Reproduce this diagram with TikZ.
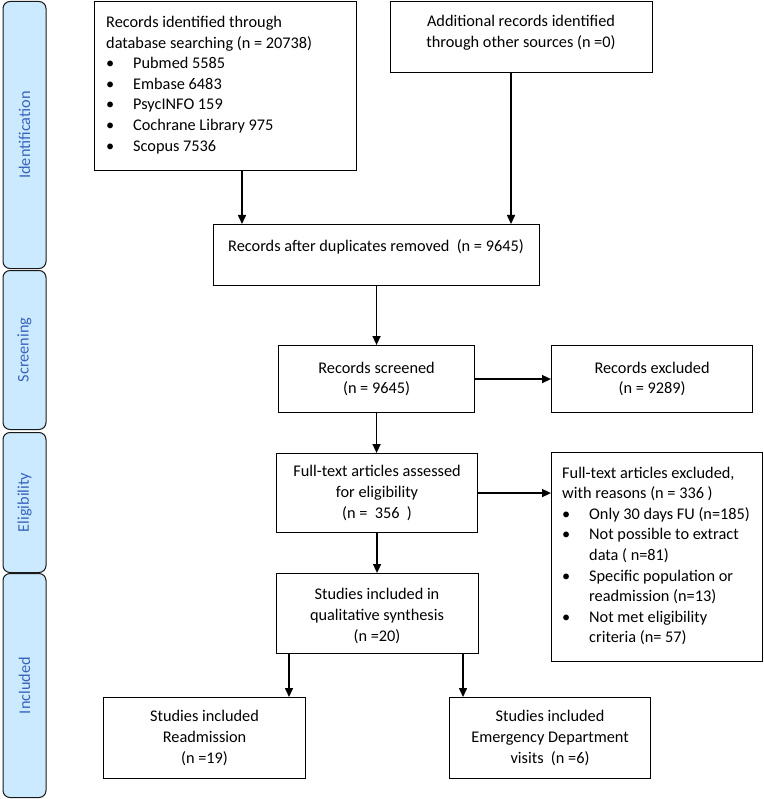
\documentclass[tikz,border=0pt]{standalone}
\usepackage{fontspec}
\setmainfont{Carlito}
\usetikzlibrary{arrows.meta}
\definecolor{barfill}{RGB}{204,234,255}
\definecolor{bartext}{RGB}{58,100,188}
\newcommand\blt{\makebox[27pt][l]{•}}
\newcommand\ind{\hspace*{27pt}}
\begin{document}
\begin{tikzpicture}[x=1pt,y=-1pt,
  font=\fontsize{16.3}{20.6}\selectfont,
  box/.style={draw=black, line width=1.1pt, rectangle, inner sep=0pt, anchor=north west, align=center},
  bar/.style={draw=black!90, line width=1pt, fill=barfill, rounded corners=7pt, anchor=north west, inner sep=0pt},
  lbl/.style={text=bartext, rotate=90, inner sep=0pt},
  txt/.style={inner sep=0pt, align=center},
  ltxt/.style={inner sep=0pt, align=left, anchor=west},
  arr/.style={-{Triangle[length=9pt,width=8pt]}, line width=1.5pt}]
\useasboundingbox (0,0) rectangle (763,799);
% side bars
\node[bar, minimum width=43, minimum height=267] (b1) at (2.5,1) {};
\node[lbl] (l1) at (b1.center) {Identification};
\node[bar, minimum width=43, minimum height=159] (b2) at (2.5,270) {};
\node[lbl] (l2) at (b2.center) {Screening};
\node[bar, minimum width=43, minimum height=140] (b3) at (2.5,432) {};
\node[lbl] (l3) at (b3.center) {Eligibility};
\node[bar, minimum width=43, minimum height=224] (b4) at (2.5,573) {};
\node[lbl] (l4) at (b4.center) {Included};
% boxes
\node[box, minimum width=262, minimum height=169] (A) at (94,1) {};
\node[ltxt] (At) at (106,85) {Records identified through\\database searching (n = 20738)\\\blt Pubmed 5585\\\blt Embase 6483\\\blt PsycINFO 159\\\blt Cochrane Library 975\\\blt Scopus 7536};
\node[box, minimum width=262, minimum height=71] (B) at (390,1) {};
\node[txt] (Bt) at (521,33) {Additional records identified\\through other sources (n =0)};
\node[box, minimum width=326, minimum height=61] (C) at (213,224) {};
\node[txt] (Ct) at (376,247) {Records after duplicates removed\ \ (n = 9645)};
\node[box, minimum width=196, minimum height=67] (D) at (278,345) {Records screened\\(n = 9645)};
\node[box, minimum width=201, minimum height=67] (E) at (551,345) {Records excluded\\(n = 9289)};
\node[box, minimum width=201, minimum height=79] (F) at (276,453) {Full-text articles assessed\\for eligibility\\(n =\ \ 356\ \ )};
\node[box, minimum width=211, minimum height=209] (G) at (551,452) {};
\node[ltxt] (Gt) at (562,556) {Full-text articles excluded,\\with reasons (n = 336 )\\\blt Only 30 days FU (n=185)\\\blt Not possible to extract\\\ind data ( n=81)\\\blt Specific population or\\\ind readmission (n=13)\\\blt Not met eligibility\\\ind criteria (n= 57)};
\node[box, minimum width=202, minimum height=80] (H) at (276,573) {};
\node[txt] (Ht) at (377,616) {Studies included in\\qualitative synthesis\\(n =20)};
\node[box, minimum width=202, minimum height=81] (I) at (103,697) {Studies included\\Readmission\\(n =19)};
\node[box, minimum width=201, minimum height=81] (J) at (449,697) {Studies included\\Emergency Department\\visits\ \ (n =6)};
% connectors
\coordinate (xa) at (242,0);
\coordinate (xb) at (511,0);
\coordinate (xi) at (289,0);
\coordinate (xj) at (463,0);
\draw[arr] (xa |- A.south) -- (xa |- C.north);
\draw[arr] (xb |- B.south) -- (xb |- C.north);
\draw[arr] (C.south) -- (C.south |- D.north);
\draw[arr] (D.east) -- (D.east -| E.west);
\draw[arr] (D.south) -- (D.south |- F.north);
\draw[arr] (F.east) -- (F.east -| G.west);
\draw[arr] (F.south) -- (F.south |- H.north);
\draw[arr] (xi |- H.south) -- (xi |- I.north);
\draw[arr] (xj |- H.south) -- (xj |- J.north);
\end{tikzpicture}
\end{document}
